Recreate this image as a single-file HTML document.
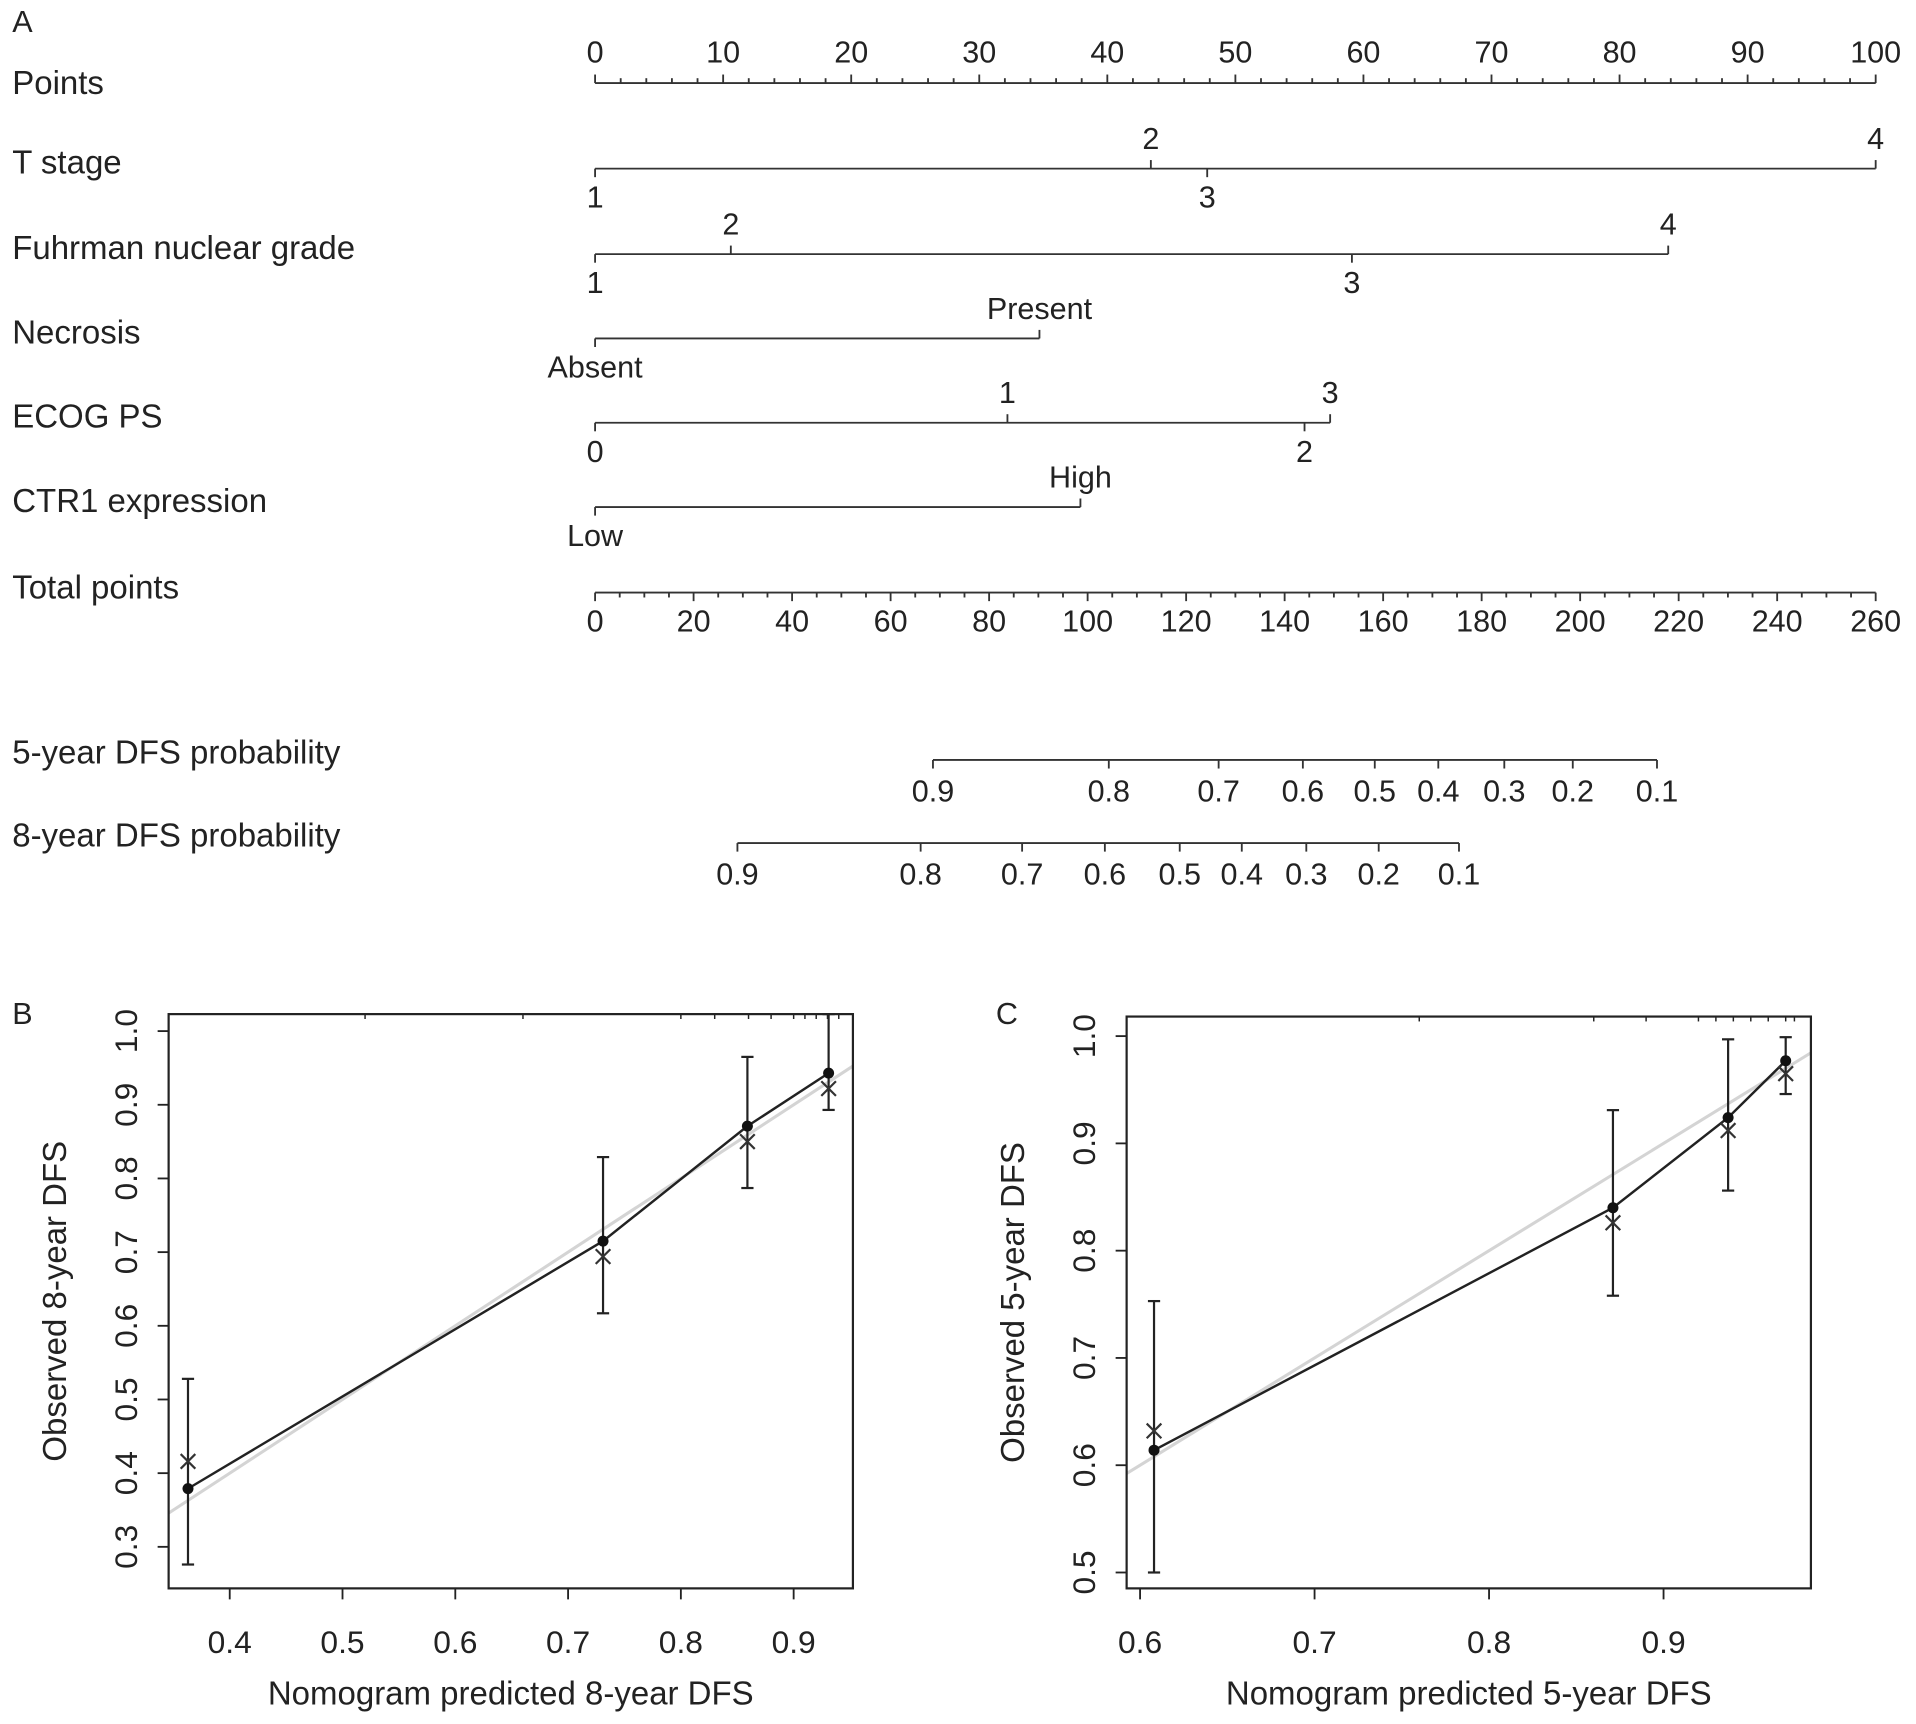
<!DOCTYPE html>
<html><head><meta charset="utf-8"><style>
html,body{margin:0;padding:0;background:#fff}
svg{display:block}
text{font-family:"Liberation Sans",Arial,sans-serif;fill:#222}
</style></head><body>
<svg id="fig" width="1916" height="1724" viewBox="0 0 1568 1411" preserveAspectRatio="none" xmlns="http://www.w3.org/2000/svg">
<g id="nomo" stroke="#333" stroke-width="1.5" font-size="25"></g>
<g id="calB"></g>
<g id="calC"></g>
</svg>
<script>
const NS="http://www.w3.org/2000/svg";
const varNames=["T stage","Fuhrman nuclear grade","Necrosis","ECOG PS","CTR1 expression"];
const tLabels=["1","2","3","4"], tPoints=[0,43.4,47.8,100];
const fLabels=["1","2","3","4"], fPoints=[0,10.6,59.1,83.8];
const nLabels=["Absent","Present"], nPoints=[0,34.7];
const eLabels=["0","1","2","3"], ePoints=[0,32.2,55.4,57.4];
const cLabels=["Low","High"], cPoints=[0,37.9];
const probLabels=["0.9","0.8","0.7","0.6","0.5","0.4","0.3","0.2","0.1"];
const dfs5Total=[68.6,104.3,126.6,143.7,158.3,171.2,184.6,198.5,215.6];
const dfs8Total=[28.9,66.1,86.7,103.5,118.7,131.3,144.4,159.1,175.4];
const bPred=[0.363,0.731,0.859,0.931];
const bObs=[0.379,0.715,0.871,0.943];
const bX=[0.416,0.694,0.850,0.922];
const bLo=[0.276,0.617,0.787,0.893];
const bHi=[0.528,0.829,0.965,1.03];
const cPred=[0.608,0.871,0.937,0.970];
const cObs=[0.614,0.840,0.924,0.977];
const cX=[0.632,0.826,0.912,0.965];
const cLo=[0.50,0.758,0.856,0.946];
const cHi=[0.753,0.931,0.997,0.999];
const bRug=[0.52,0.66,0.80,0.83,0.86,0.88,0.90,0.91,0.92,0.93,0.94];
const cRug=[0.76,0.86,0.89,0.92,0.93,0.94,0.95,0.96,0.97,0.975];

function el(p,tag,attrs,txt){const e=document.createElementNS(NS,tag);for(const k in attrs)e.setAttribute(k,attrs[k]);if(txt!=null)e.textContent=txt;p.appendChild(e);return e;}
const X0=487,X1=1535;
const pt=v=>X0+(X1-X0)*v/100;
const tot=v=>X0+(X1-X0)*v/260;
const nomo=document.getElementById('nomo');
const LF=27;

let t=el(nomo,'text',{x:10,y:26,stroke:'none'},'A');


t=el(nomo,'text',{x:10,y:77,stroke:'none','font-size':LF},'Points');

el(nomo,'line',{x1:X0,x2:X1,y1:68,y2:68});
for(let i=0;i<=50;i++){const x=pt(i*2);el(nomo,'line',{x1:x,x2:x,y1:68,y2:i%5==0?61:64});}
for(let i=0;i<=10;i++){t=el(nomo,'text',{x:pt(i*10),y:51,'text-anchor':'middle',stroke:'none'},String(i*10));
}

function variable(name,y,labels,pts,aboveIdx){
  let t=el(nomo,'text',{x:10,y:y+4,stroke:'none','font-size':LF},name);
  
  const mx=Math.max(...pts);
  el(nomo,'line',{x1:pt(0),x2:pt(mx),y1:y,y2:y});
  labels.forEach((l,i)=>{const x=pt(pts[i]);const up=aboveIdx.includes(i);
    el(nomo,'line',{x1:x,x2:x,y1:y,y2:up?y-7:y+7});
    let tt=el(nomo,'text',{x:x,y:up?y-16:y+32,'text-anchor':'middle',stroke:'none'},l);
    });
}
variable(varNames[0],138,tLabels,tPoints,[1,3]);
variable(varNames[1],208,fLabels,fPoints,[1,3]);
variable(varNames[2],277,nLabels,nPoints,[1]);
variable(varNames[3],346,eLabels,ePoints,[1,3]);
variable(varNames[4],415,cLabels,cPoints,[1]);

t=el(nomo,'text',{x:10,y:490,stroke:'none','font-size':LF},'Total points');

el(nomo,'line',{x1:X0,x2:X1,y1:485,y2:485});
for(let i=0;i<=52;i++){const x=tot(i*5);el(nomo,'line',{x1:x,x2:x,y1:485,y2:i%4==0?492:489});}
for(let i=0;i<=13;i++){t=el(nomo,'text',{x:tot(i*20),y:517,'text-anchor':'middle',stroke:'none'},String(i*20));
}

function prob(name,y,vals){
  let t=el(nomo,'text',{x:10,y:y+3,stroke:'none','font-size':LF},name);
  
  el(nomo,'line',{x1:tot(vals[0]),x2:tot(vals[vals.length-1]),y1:y,y2:y});
  vals.forEach((v,i)=>{const x=tot(v);el(nomo,'line',{x1:x,x2:x,y1:y,y2:y+7});
    let tt=el(nomo,'text',{x:x,y:y+34,'text-anchor':'middle',stroke:'none'},probLabels[i]);
    });
}
prob('5-year DFS probability',622,dfs5Total);
prob('8-year DFS probability',690,dfs8Total);

function calib(g,cfg){
  const {bx0,bx1,by0,by1,xv0,xp0,xs,yv0,yp0,ys,xt,yt,pred,obs,xm,lo,hi,label,xl,yl,dlo,dhi,rug}=cfg;
  const sx=v=>xp0+(v-xv0)*xs, sy=v=>yp0-(v-yv0)*ys;
  let t=el(g,'text',{x:cfg.lx,y:838,'font-size':25},label);
  
  const cp=el(g,'clipPath',{id:'cp'+label});el(cp,'rect',{x:bx0,y:by0,width:bx1-bx0,height:by1-by0});
  el(g,'line',{x1:sx(dlo),y1:sy(dlo),x2:sx(dhi),y2:sy(dhi),stroke:'#d4d4d4','stroke-width':2.5,'clip-path':'url(#cp'+label+')'});
  let d='';pred.forEach((p,i)=>{d+=(i?'L':'M')+sx(p)+' '+sy(obs[i]);});
  el(g,'path',{d:d,fill:'none',stroke:'#222','stroke-width':2});
  pred.forEach((p,i)=>{const x=sx(p);
    const yh=Math.max(sy(hi[i]),by0);
    el(g,'line',{x1:x,x2:x,y1:sy(lo[i]),y2:yh,stroke:'#222','stroke-width':1.8});
    el(g,'line',{x1:x-5,x2:x+5,y1:sy(lo[i]),y2:sy(lo[i]),stroke:'#222','stroke-width':1.8});
    el(g,'line',{x1:x-5,x2:x+5,y1:yh,y2:yh,stroke:'#222','stroke-width':1.8});
    const c=el(g,'circle',{cx:x,cy:sy(obs[i]),r:4.5,fill:'#111'});
    
    const ym=sy(xm[i]);
    const m=el(g,'path',{d:`M${x-6} ${ym-6}L${x+6} ${ym+6}M${x-6} ${ym+6}L${x+6} ${ym-6}`,stroke:'#333','stroke-width':1.8});
    });
  rug.forEach(v=>{const x=sx(v);el(g,'line',{x1:x,x2:x,y1:by0,y2:by0+4,stroke:'#222','stroke-width':1.2});});
  el(g,'rect',{x:bx0,y:by0,width:bx1-bx0,height:by1-by0,fill:'none',stroke:'#222','stroke-width':1.8});
  xt.forEach(v=>{const x=sx(v);el(g,'line',{x1:x,x2:x,y1:by1,y2:by1+9,stroke:'#222','stroke-width':1.5});
    let tt=el(g,'text',{x:x,y:by1+53,'text-anchor':'middle','font-size':26},v.toFixed(1));
    });
  yt.forEach(v=>{const y=sy(v);el(g,'line',{x1:bx0,x2:bx0-9,y1:y,y2:y,stroke:'#222','stroke-width':1.5});
    let tt=el(g,'text',{x:0,y:0,'text-anchor':'middle','font-size':26,transform:`translate(${bx0-26},${y}) rotate(-90)`},v.toFixed(1));
    });
  t=el(g,'text',{x:(bx0+bx1)/2,y:by1+95,'text-anchor':'middle','font-size':27},xl);
  
  t=el(g,'text',{x:0,y:0,'text-anchor':'middle','font-size':27,transform:`translate(${bx0-84},${(by0+by1)/2}) rotate(-90)`},yl);
  
}
calib(document.getElementById('calB'),{bx0:138,bx1:698,by0:830,by1:1300,xv0:0.4,xp0:188,xs:923,yv0:0.3,yp0:1266,ys:603,
 xt:[0.4,0.5,0.6,0.7,0.8,0.9],yt:[0.3,0.4,0.5,0.6,0.7,0.8,0.9,1.0],pred:bPred,obs:bObs,xm:bX,lo:bLo,hi:bHi,label:'B',lx:10,rug:bRug,
 xl:'Nomogram predicted 8-year DFS',yl:'Observed 8-year DFS',dlo:0.2,dhi:1.1});
calib(document.getElementById('calC'),{bx0:922,bx1:1482,by0:832,by1:1300,xv0:0.6,xp0:933,xs:1428,yv0:0.5,yp0:1287,ys:878,
 xt:[0.6,0.7,0.8,0.9],yt:[0.5,0.6,0.7,0.8,0.9,1.0],pred:cPred,obs:cObs,xm:cX,lo:cLo,hi:cHi,label:'C',lx:815,rug:cRug,
 xl:'Nomogram predicted 5-year DFS',yl:'Observed 5-year DFS',dlo:0.5,dhi:1.1});
</script>
</body></html>
